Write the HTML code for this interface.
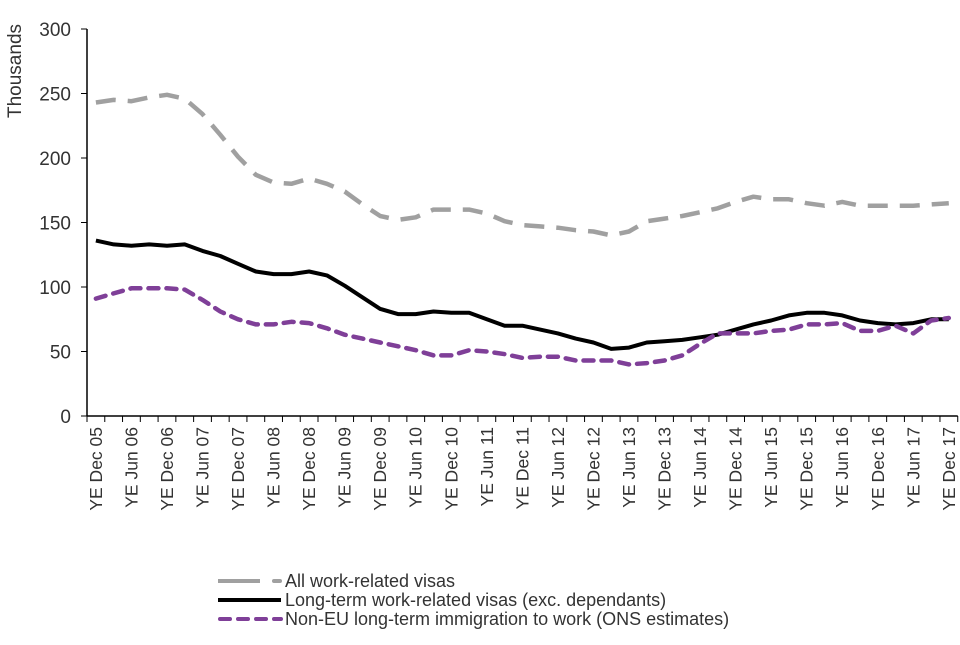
<!DOCTYPE html>
<html><head><meta charset="utf-8">
<style>
body{margin:0;background:#fff;font-family:"Liberation Sans",Arial,sans-serif;}
svg text{font-family:"Liberation Sans",Arial,sans-serif;fill:#333;}
</style></head>
<body>
<svg id="chart" width="960" height="640" viewBox="0 0 960 640" xmlns="http://www.w3.org/2000/svg">
<g id="axes"></g>
<g id="series"></g>
<g id="legend">
  <line x1="218" y1="581" x2="260" y2="581" stroke="#a0a0a0" stroke-width="4"/>
  <line x1="274" y1="581" x2="280" y2="581" stroke="#a0a0a0" stroke-width="4" stroke-linecap="round"/>
  <text x="285" y="587" font-size="18">All work-related visas</text>
  <line x1="218" y1="600" x2="281" y2="600" stroke="#000" stroke-width="4"/>
  <text x="285" y="606" font-size="18">Long-term work-related visas (exc. dependants)</text>
  <line x1="220" y1="619" x2="281" y2="619" stroke="#7f3f98" stroke-width="4" stroke-dasharray="10,8" stroke-linecap="round"/>
  <text x="285" y="625" font-size="18">Non-EU long-term immigration to work (ONS estimates)</text>
</g>
</svg>
<script>
const categories = [];
const yrs=['05','06','07','08','09','10','11','12','13','14','15','16','17'];
const qs=['Mar','Jun','Sep','Dec'];
categories.push('YE Dec 05');
for(let y=1;y<yrs.length;y++){for(const q of qs){categories.push('YE '+q+' '+yrs[y]);}}
const allVisas = [243,245,244,247,249,246,234,218,201,187,181,180,184,180,174,164,155,152,154,160,160,160,157,151,148,147,146,144,143,140,143,151,153,155,158,161,166,170,168,168,165,163,166,163,163,163,163,164,165];
const longTerm = [136,133,132,133,132,133,128,124,118,112,110,110,112,109,101,92,83,79,79,81,80,80,75,70,70,67,64,60,57,52,53,57,58,59,61,63,67,71,74,78,80,80,78,74,72,71,72,75,75];
const onsEst = [91,95,99,99,99,98,90,81,75,71,71,73,72,68,63,60,57,54,51,47,47,51,50,48,45,46,46,43,43,43,40,41,43,47,56,64,64,64,66,67,71,71,72,66,66,70,64,74,76];
const yTicks = [0,50,100,150,200,250,300];

const NS='http://www.w3.org/2000/svg';
const x0=87, step=17.77, yBase=416, yScale=387/300;
function xPos(i){return x0+step*(i+0.5);}
function yPos(v){return yBase-v*yScale;}
function mk(tag,attrs,parent){const e=document.createElementNS(NS,tag);for(const k in attrs)e.setAttribute(k,attrs[k]);parent.appendChild(e);return e;}
const axes=document.getElementById('axes');
const yAxis=mk('line',{x1:x0,y1:yPos(300),x2:x0,y2:yBase,stroke:'#000','stroke-width':1.5},axes);


const xAxis=mk('line',{x1:x0,y1:yBase,x2:x0+step*categories.length,y2:yBase,stroke:'#000','stroke-width':1.5},axes);


yTicks.forEach(t=>{
  const y=yPos(t);
  mk('line',{x1:x0-6,y1:y,x2:x0,y2:y,stroke:'#000','stroke-width':1},axes);
  const tx=mk('text',{x:x0-16,y:y+7,'font-size':19,'text-anchor':'end'},axes);
  tx.textContent=t;
  
  
});
for(let i=0;i<=categories.length;i++){
  const x=x0+step*i;
  mk('line',{x1:x,y1:yBase,x2:x,y2:yBase+6,stroke:'#000','stroke-width':1},axes);
}
categories.forEach((c,i)=>{
  if(i%2!==0)return;
  const x=xPos(i)+6;
  const tx=mk('text',{x:0,y:0,'font-size':17.5,'text-anchor':'end',transform:`translate(${x},${yBase+11}) rotate(-90)`},axes);
  tx.textContent=c;
  
  
});
const yt=mk('text',{x:0,y:0,'font-size':19,'text-anchor':'middle',transform:`translate(21,71) rotate(-90)`},axes);
yt.textContent='Thousands';



const ser=document.getElementById('series');
function line(vals,attrs,name){
  const d=vals.map((v,i)=>(i?'L':'M')+xPos(i).toFixed(1)+','+yPos(v).toFixed(1)).join(' ');
  const p=mk('path',Object.assign({d:d,fill:'none','stroke-linejoin':'round'},attrs),ser);
  
  
}
line(allVisas,{stroke:'#a0a0a0','stroke-width':4.5,'stroke-dasharray':'20,12'},'all-visas-line');
line(longTerm,{stroke:'#000','stroke-width':4},'long-term-line');
line(onsEst,{stroke:'#7f3f98','stroke-width':4.5,'stroke-dasharray':'10,8','stroke-linecap':'round'},'ons-estimates-line');
</script>
</body></html>
